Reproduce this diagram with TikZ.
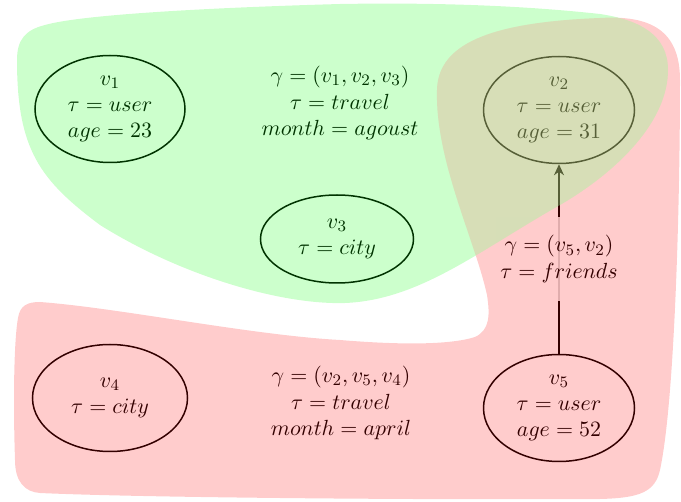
\documentclass[tikz,border=0pt]{standalone}
\usetikzlibrary{shapes.geometric,arrows.meta}
\begin{document}
\begin{tikzpicture}[x=0.5pt,y=-0.5pt,
  font={\fontsize{11}{13.2}\selectfont},
  vert/.style={draw=black, line width=0.75pt, ellipse, align=center, inner sep=0pt},
  hlabel/.style={align=center, inner sep=0pt},
  elabel/.style={align=center, fill=white, fill opacity=0.85, text opacity=1, inner xsep=2pt, inner ysep=9pt},
  arr/.style={line width=0.75pt, -{Stealth[length=5.5pt,width=5pt]}},
  greenblob/.style={insert path={(17,60) .. controls (17,150) and (40,180) .. (100,225)
    .. controls (180,275) and (280,305) .. (345,303)
    .. controls (420,300) and (480,250) .. (560,205)
    .. controls (620,170) and (668,120) .. (668,70)
    .. controls (668,35) and (640,20) .. (600,14)
    .. controls (500,3) and (400,3) .. (340,4)
    .. controls (200,8) and (80,15) .. (45,25)
    .. controls (25,30) and (17,40) .. (17,60) -- cycle}},
  redblob/.style={insert path={(40,302) .. controls (120,308) and (250,335) .. (340,340)
    .. controls (400,345) and (450,345) .. (475,337)
    .. controls (490,330) and (490,315) .. (487,295)
    .. controls (475,240) and (435,160) .. (437,90)
    .. controls (438,40) and (500,22) .. (600,18)
    .. controls (650,15) and (680,30) .. (680,80)
    .. controls (680,200) and (675,400) .. (660,470)
    .. controls (655,492) and (640,498) .. (600,499)
    .. controls (450,500) and (150,498) .. (40,493)
    .. controls (25,492) and (15,482) .. (15,460)
    .. controls (13,400) and (14,340) .. (18,318)
    .. controls (20,305) and (28,302) .. (40,302) -- cycle}}
]
\useasboundingbox (0,0) rectangle (681,502);

\node[vert, minimum width=75pt, minimum height=53.5pt] (v1) at (110,109) {$v_1$\\$\tau=user$\\$age=23$};
\node[vert, minimum width=75.5pt, minimum height=53.5pt] (v2) at (559,110) {$v_2$\\$\tau=user$\\$age=31$};
\node[vert, minimum width=76.5pt, minimum height=44pt] (v3) at (337,239) {$v_3$\\$\tau=city$};
\node[vert, minimum width=77.5pt, minimum height=53.5pt] (v4) at (110,398) {$v_4$\\$\tau=city$};
\node[vert, minimum width=75.5pt, minimum height=53.5pt] (v5) at (559,408) {$v_5$\\$\tau=user$\\$age=52$};

\node[hlabel] (h1) at (340,103) {$\gamma=(v_1,v_2,v_3)$\\$\tau=travel$\\$month=agoust$};
\node[hlabel] (h2) at (341,403) {$\gamma=(v_2,v_5,v_4)$\\$\tau=travel$\\$month=april$};

\draw[arr] (v5) -- node[elabel] (e1) {$\gamma=(v_5,v_2)$\\$\tau=friends$} (v2);

\fill[red, fill opacity=0.2, redblob];
\fill[green, fill opacity=0.2, greenblob];
\begin{scope}
  \clip[redblob];
  \fill[white, fill opacity=0.22, greenblob];
\end{scope}
\end{tikzpicture}
\end{document}
